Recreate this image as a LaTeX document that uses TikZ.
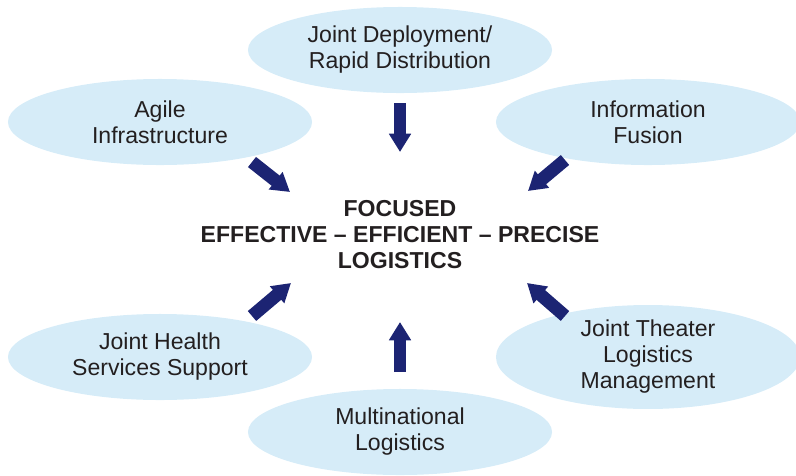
\documentclass[tikz,border=0pt]{standalone}
\usepackage{fontspec}
\setmainfont{Liberation Sans}
\usetikzlibrary{shapes.geometric,arrows.meta}
\definecolor{bubble}{HTML}{D6ECF8}
\definecolor{navy}{HTML}{1C2473}
\definecolor{ink}{HTML}{231F20}
\tikzset{
  area/.style={ellipse, fill=bubble, inner sep=0pt, minimum width=7.6cm, minimum height=2.15cm,
    align=center, text=ink, font=\fontsize{16.4}{18.5}\selectfont},
  push/.style={navy, line width=9.2pt, -{Triangle[width=15pt,length=13pt]}}
}
\begin{document}
\begin{tikzpicture}[x=0.025cm,y=-0.025cm]
	\useasboundingbox (0,0) rectangle (796,475);
	%\draw[very thin,color=gray] (0,0) grid[step=50] (796,475);
	\node[area] (deploy) at (400,50) {Joint Deployment/\\Rapid Distribution};
	\node[area] (agile) at (160,122) {Agile\\Infrastructure};
	\node[area] (fusion) at (648,122) {Information\\Fusion};
	\node[area] (health) at (160,357) {Joint Health\\Services Support};
	\node[area] (theater) at (648,357) {Joint Theater\\Logistics\\Management};
	\node[area] (multi) at (400,432) {Multinational\\Logistics};
	\node[align=center, text=ink, font=\fontsize{16.4}{18.5}\selectfont\bfseries] (focus) at (400,235)
		{FOCUSED\\EFFECTIVE -- EFFICIENT -- PRECISE\\LOGISTICS};
	% arrow ends
	\coordinate (d1) at (400,103);  \coordinate (d2) at (400,152);
	\coordinate (a1) at (252,162);  \coordinate (a2) at (290,192);
	\coordinate (f1) at (565,160);  \coordinate (f2) at (528,191);
	\coordinate (h1) at (252,316);  \coordinate (h2) at (291,283);
	\coordinate (t1) at (565,316);  \coordinate (t2) at (527,283);
	\coordinate (m1) at (400,372);  \coordinate (m2) at (400,322);
	\foreach \from/\to in {d1/d2, a1/a2, f1/f2, h1/h2, t1/t2, m1/m2}
		\draw[push] (\from) -- (\to);
\end{tikzpicture}
\end{document}
